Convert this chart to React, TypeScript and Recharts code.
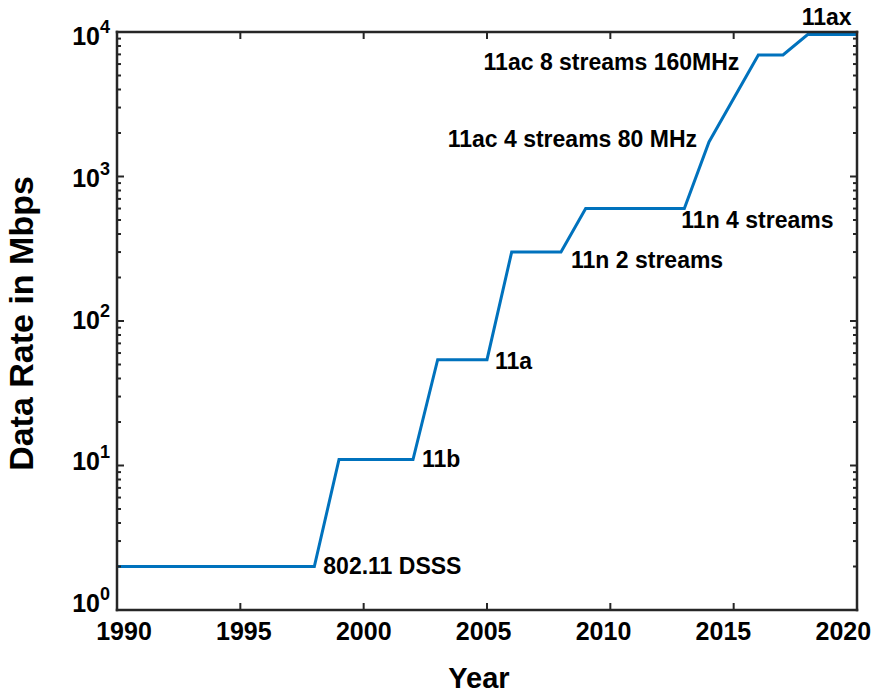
import React from 'react';
import { ComposedChart, Line, Scatter, XAxis, YAxis } from 'recharts';

// ---- data ----
const years = [1990, 1998, 1999, 2002, 2003, 2005, 2006, 2008, 2009, 2013, 2014, 2016, 2017, 2018, 2020];
const rates = [2, 2, 11, 11, 54, 54, 300, 300, 600, 600, 1733, 6933, 6933, 9608, 9608];

const noteYears = [1998, 2002, 2005, 2008, 2013, 2014, 2016, 2018];
const noteRates = [2, 11, 54, 300, 600, 1733, 6933, 9608];
const noteTexts = [
  '802.11 DSSS',
  '11b',
  '11a',
  '11n 2 streams',
  '11n 4 streams',
  '11ac 4 streams 80 MHz',
  '11ac 8 streams 160MHz',
  '11ax',
];

const xTicks = [1990, 1995, 2000, 2005, 2010, 2015, 2020];
const yDecades = [1, 10, 100, 1000, 10000];
const yMinorMultipliers = [2, 3, 4, 5, 6, 7, 8, 9];

// ---- styles ----
const FONT = '"Liberation Sans", Arial, Helvetica, sans-serif';
const AXIS = '#262626';
const LINE = '#0072BD';

const noteStyles: { dx: number; dy: number; anchor: 'start' | 'end' }[] = [
  { dx: 9, dy: 7, anchor: 'start' },
  { dx: 9, dy: 7.5, anchor: 'start' },
  { dx: 8, dy: 9, anchor: 'start' },
  { dx: 10, dy: 16, anchor: 'start' },
  { dx: -3, dy: 19, anchor: 'start' },
  { dx: -12, dy: 5, anchor: 'end' },
  { dx: -19, dy: 15, anchor: 'end' },
  { dx: -6, dy: -9.5, anchor: 'start' },
];

// ---- built tables ----
const lineData = years.map((y, i) => ({ year: y, rate: rates[i] }));
const noteData = noteYears.map((y, i) => ({ year: y, rate: noteRates[i], text: noteTexts[i], i }));
const yTicks: number[] = [];
yDecades.forEach((d, k) => {
  yTicks.push(d);
  if (k < yDecades.length - 1) yMinorMultipliers.forEach((m) => yTicks.push(m * d));
});

const isDecade = (v: number) => {
  const l = Math.log10(v);
  return Math.abs(l - Math.round(l)) < 1e-9;
};

const BottomTick = (props: any) => {
  const { x, y, payload, index } = props;
  const dx = 7 - 3.45 * index;
  return (
    <g>
      <line x1={x} x2={x} y1={y} y2={y - 7} stroke={AXIS} strokeWidth={2} />
      <text x={x + dx} y={y + 30} textAnchor="middle" fontFamily={FONT} fontWeight="bold" fontSize={25} fill="#000">
        {payload.value}
      </text>
    </g>
  );
};

const TopTick = (props: any) => {
  const { x, y } = props;
  return <line x1={x} x2={x} y1={y} y2={y + 7} stroke={AXIS} strokeWidth={2} />;
};

const LeftTick = (props: any) => {
  const { x, y, payload } = props;
  const v = payload.value;
  const major = isDecade(v);
  const exp = Math.round(Math.log10(v));
  return (
    <g>
      <line x1={x} x2={x + (major ? 7 : 4)} y1={y} y2={y} stroke={AXIS} strokeWidth={2} />
      {major && (
        <text x={x - 7} y={y + 2 + 2.75 * exp} textAnchor="end" fontFamily={FONT} fontWeight="bold" fontSize={25} fill="#000">
          <tspan>10</tspan>
          <tspan fontSize={18} dy={-12}>{exp}</tspan>
        </text>
      )}
    </g>
  );
};

const RightTick = (props: any) => {
  const { x, y, payload } = props;
  const major = isDecade(payload.value);
  return <line x1={x} x2={x - (major ? 7 : 4)} y1={y} y2={y} stroke={AXIS} strokeWidth={2} />;
};

const XTitle = (props: any) => {
  const vb = props.viewBox || { x: 117, y: 610, width: 740 };
  return (
    <text x={vb.x + vb.width / 2 - 8} y={vb.y + 78} textAnchor="middle" fontFamily={FONT} fontWeight="bold" fontSize={29} fill="#000">
      Year
    </text>
  );
};

const YTitle = (props: any) => {
  const vb = props.viewBox || { x: 0, y: 32, width: 117, height: 578 };
  const cx = 33;
  const cy = vb.y + vb.height / 2 + 2.5;
  return (
    <text x={cx} y={cy} transform={`rotate(-90, ${cx}, ${cy})`} textAnchor="middle" fontFamily={FONT} fontWeight="bold" fontSize={34} fill="#000">
      Data Rate in Mbps
    </text>
  );
};

const NoteShape = (props: any) => {
  const { cx, cy, payload } = props;
  const s = noteStyles[payload.i];
  return (
    <text x={cx + s.dx} y={cy + s.dy} textAnchor={s.anchor} fontFamily={FONT} fontWeight="bold" fontSize={23} fill="#000">
      {payload.text}
    </text>
  );
};

const axisLineStyle = { stroke: AXIS, strokeWidth: 2.5, strokeLinecap: 'square' as const };

export default function App() {
  return (
    <div style={{ position: 'absolute', left: 0, top: 0, width: 877, height: 693, background: '#fff' }}>
      <ComposedChart width={877} height={693} margin={{ top: 31, right: 19, bottom: 0, left: 0 }}>
        <XAxis
          xAxisId="bottom"
          dataKey="year"
          type="number"
          domain={[1990, 2020]}
          ticks={xTicks}
          interval={0}
          height={83}
          tickSize={0}
          tickMargin={0}
          tickLine={false}
          axisLine={axisLineStyle}
          tick={(p: any) => <BottomTick {...p} />}
          label={<XTitle />}
        />
        <XAxis
          xAxisId="top"
          orientation="top"
          dataKey="year"
          type="number"
          domain={[1990, 2020]}
          ticks={xTicks}
          interval={0}
          height={1}
          tickSize={0}
          tickMargin={0}
          tickLine={false}
          axisLine={axisLineStyle}
          tick={(p: any) => <TopTick {...p} />}
        />
        <YAxis
          yAxisId="left"
          scale="log"
          type="number"
          domain={[1, 10000]}
          ticks={yTicks}
          interval={0}
          width={117}
          tickSize={0}
          tickMargin={0}
          tickLine={false}
          axisLine={axisLineStyle}
          tick={(p: any) => <LeftTick {...p} />}
          label={<YTitle />}
        />
        <YAxis
          yAxisId="right"
          orientation="right"
          scale="log"
          type="number"
          domain={[1, 10000]}
          ticks={yTicks}
          interval={0}
          width={1}
          tickSize={0}
          tickMargin={0}
          tickLine={false}
          axisLine={axisLineStyle}
          tick={(p: any) => <RightTick {...p} />}
        />
        {/* invisible series so the mirrored frame axes (top/right) are drawn */}
        <Line
          xAxisId="top"
          yAxisId="right"
          data={lineData}
          dataKey="rate"
          type="linear"
          stroke="none"
          dot={false}
          activeDot={false}
          isAnimationActive={false}
        />
        <Line
          xAxisId="bottom"
          yAxisId="left"
          data={lineData}
          dataKey="rate"
          type="linear"
          stroke={LINE}
          strokeWidth={3}
          dot={false}
          activeDot={false}
          isAnimationActive={false}
        />
        <Scatter
          xAxisId="bottom"
          yAxisId="left"
          data={noteData}
          dataKey="rate"
          shape={(p: any) => <NoteShape {...p} />}
          isAnimationActive={false}
        />
      </ComposedChart>
    </div>
  );
}
